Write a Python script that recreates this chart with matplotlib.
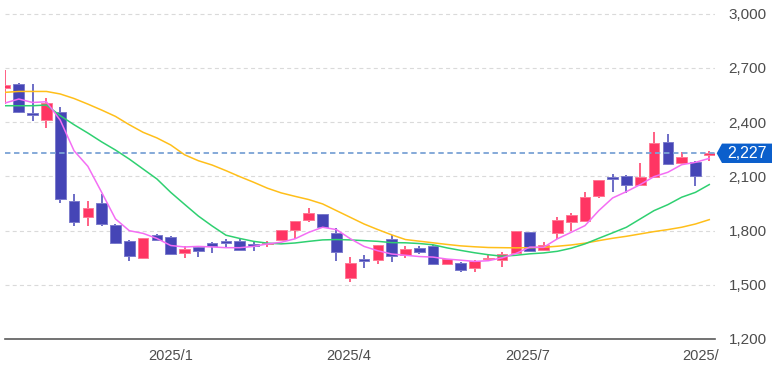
import matplotlib
matplotlib.use('Agg')
import matplotlib.pyplot as plt
import matplotlib.dates as mdates
import pandas as pd
from matplotlib.patches import Polygon, Rectangle
from matplotlib.transforms import Bbox, TransformedBbox, IdentityTransform

plt.rcParams['font.family'] = ['Liberation Sans', 'DejaVu Sans']

# weekly candles, one per week
weeks = pd.date_range('2024-10-09', periods=52, freq='7D')

opens = [2590, 2610, 2448, 2413, 2457, 1965, 1873, 1950, 1833, 1744,
         1649, 1776, 1766, 1674, 1707, 1730, 1740, 1744, 1726, 1724,
         1748, 1805, 1859, 1892, 1787, 1538, 1643, 1639, 1752, 1663,
         1703, 1717, 1617, 1622, 1595, 1643, 1636, 1674, 1792, 1694,
         1785, 1845, 1855, 1992, 2098, 2102, 2054, 2094, 2291, 2171,
         2180, 2218]
highs = [2690, 2615, 2610, 2530, 2481, 2002, 1961, 2002, 1836, 1746,
         1760, 1778, 1768, 1713, 1717, 1735, 1754, 1757, 1735, 1740,
         1805, 1853, 1925, 1894, 1814, 1652, 1665, 1722, 1776, 1717,
         1717, 1719, 1643, 1624, 1636, 1665, 1682, 1798, 1794, 1735,
         1877, 1897, 2011, 2082, 2113, 2108, 2171, 2343, 2334, 2236,
         2186, 2241]
lows = [2500, 2452, 2407, 2365, 1952, 1823, 1823, 1827, 1726, 1634,
        1643, 1748, 1668, 1649, 1652, 1676, 1707, 1692, 1689, 1711,
        1746, 1754, 1845, 1815, 1630, 1514, 1593, 1615, 1624, 1646,
        1672, 1615, 1612, 1569, 1569, 1634, 1599, 1672, 1687, 1689,
        1754, 1799, 1845, 1980, 2015, 2006, 2050, 2092, 2165, 2168,
        2044, 2182]
closes = [2606, 2457, 2440, 2505, 1975, 1845, 1925, 1836, 1731, 1661,
          1757, 1750, 1671, 1698, 1689, 1717, 1731, 1694, 1717, 1731,
          1803, 1851, 1896, 1818, 1680, 1619, 1632, 1720, 1657, 1696,
          1680, 1617, 1641, 1583, 1632, 1650, 1670, 1795, 1689, 1720,
          1860, 1888, 1984, 2080, 2087, 2054, 2094, 2284, 2168, 2208,
          2100, 2227]

ma_short = [2505, 2527, 2508, 2512, 2410, 2241, 2155, 2011, 1864, 1799,
            1784, 1756, 1717, 1709, 1712, 1709, 1705, 1705, 1712, 1726,
            1735, 1754, 1790, 1818, 1805, 1755, 1712, 1688, 1670, 1663,
            1656, 1653, 1642, 1636, 1629, 1633, 1649, 1673, 1708, 1707,
            1754, 1790, 1827, 1910, 1980, 2015, 2054, 2098, 2122, 2164,
            2177, 2199]
ma_mid = [2490, 2490, 2490, 2494, 2435, 2385, 2339, 2290, 2245, 2195,
          2140, 2085, 2011, 1945, 1880, 1825, 1774, 1756, 1740, 1730,
          1726, 1731, 1740, 1748, 1750, 1748, 1744, 1740, 1733, 1732,
          1728, 1721, 1704, 1690, 1677, 1666, 1658, 1663, 1671, 1676,
          1685, 1702, 1726, 1757, 1787, 1818, 1864, 1910, 1943, 1984,
          2011, 2054]
ma_long = [2564, 2569, 2569, 2569, 2555, 2530, 2499, 2466, 2431, 2385,
           2343, 2312, 2273, 2219, 2186, 2162, 2131, 2098, 2067, 2034,
           2008, 1989, 1971, 1947, 1910, 1873, 1836, 1805, 1776, 1750,
           1741, 1732, 1723, 1715, 1710, 1706, 1705, 1704, 1705, 1707,
           1713, 1720, 1730, 1744, 1757, 1768, 1781, 1794, 1805, 1818,
           1836, 1860]

tick_dates = ['2025-01-01', '2025-04-01', '2025-07-01', '2025-10-01']
tick_labels = ['2025/1', '2025/4', '2025/7', '2025/10']
price_ticks = [1200, 1500, 1800, 2100, 2400, 2700, 3000]
last_price = 2227

UP = '#ff3563'
DOWN = '#4545b6'

fig = plt.figure(figsize=(7.81, 3.70), dpi=100)
ax = fig.add_axes([5 / 781, 31 / 370, 710 / 781, 339 / 370])

x = mdates.date2num(weeks)
w = 5.4
for xi, o, h, l, c in zip(x, opens, highs, lows, closes):
    col = UP if c >= o else DOWN
    edge = '#ff7a95' if c >= o else '#7b7bcc'
    ax.vlines(xi, l, h, color=col, lw=1.1, zorder=2)
    ax.add_patch(Rectangle((xi - w / 2, min(o, c)), w, max(abs(c - o), 6),
                           facecolor=col, edgecolor=edge, lw=0.7, zorder=3))

ax.axhline(last_price, color='#7ba3d6', ls=(0, (3, 2)), lw=1.3, zorder=4)

ax.plot(x, ma_long, color='#ffbf1a', lw=1.1, zorder=5)
ax.plot(x, ma_mid, color='#2fd071', lw=1.1, zorder=5)
ax.plot(x, ma_short, color='#f46ef4', lw=1.1, zorder=6)

ax.set_xlim(x[0], x[-1] + 2.9)
ax.set_ylim(1200, 3074.7)

ax.set_yticks(price_ticks)
ax.set_yticklabels(['{:,}'.format(p) for p in price_ticks])
ax.yaxis.tick_right()
ax.tick_params(axis='y', length=0, pad=9.8, labelsize=11, labelcolor='#4d4d4d')
ax.set_xticks(mdates.date2num(pd.to_datetime(tick_dates)))
ax.set_xticklabels(tick_labels)
ax.tick_params(axis='x', length=0, pad=7, labelsize=10.5, labelcolor='#4d4d4d')

ax.grid(axis='y', color='#dadada', ls=(0, (3.6, 2.9)), lw=0.8, zorder=0)
for ln in ax.get_ygridlines():
    if ln.get_ydata()[0] == 1200:
        ln.set_visible(False)
for s in ['top', 'left', 'right']:
    ax.spines[s].set_visible(False)
ax.spines['bottom'].set_color('#5a5a5a')
ax.spines['bottom'].set_linewidth(1.2)

# x labels are clipped a little past the right edge of the plot
clip = TransformedBbox(Bbox([[-0.1, -0.3], [1.0058, 1]]), ax.transAxes)
for lab in ax.get_xticklabels():
    lab.set_clip_on(True)
    lab.set_clip_box(clip)

# last price tag
xr = ax.transAxes.transform((1, 0))[0]
yp = ax.transData.transform((x[0], last_price))[1]
tag = Polygon([(xr + 1.7, yp), (xr + 7, yp + 9.7), (xr + 57, yp + 9.7),
               (xr + 57, yp - 9.7), (xr + 7, yp - 9.7)], closed=True,
              facecolor='#0b5fcc', edgecolor='none', transform=IdentityTransform())
fig.add_artist(tag)
fig.text(xr + 32, yp, '{:,}'.format(last_price), transform=IdentityTransform(),
         color='white', fontsize=11.5, ha='center', va='center')

fig.savefig('out.png', dpi=100)
